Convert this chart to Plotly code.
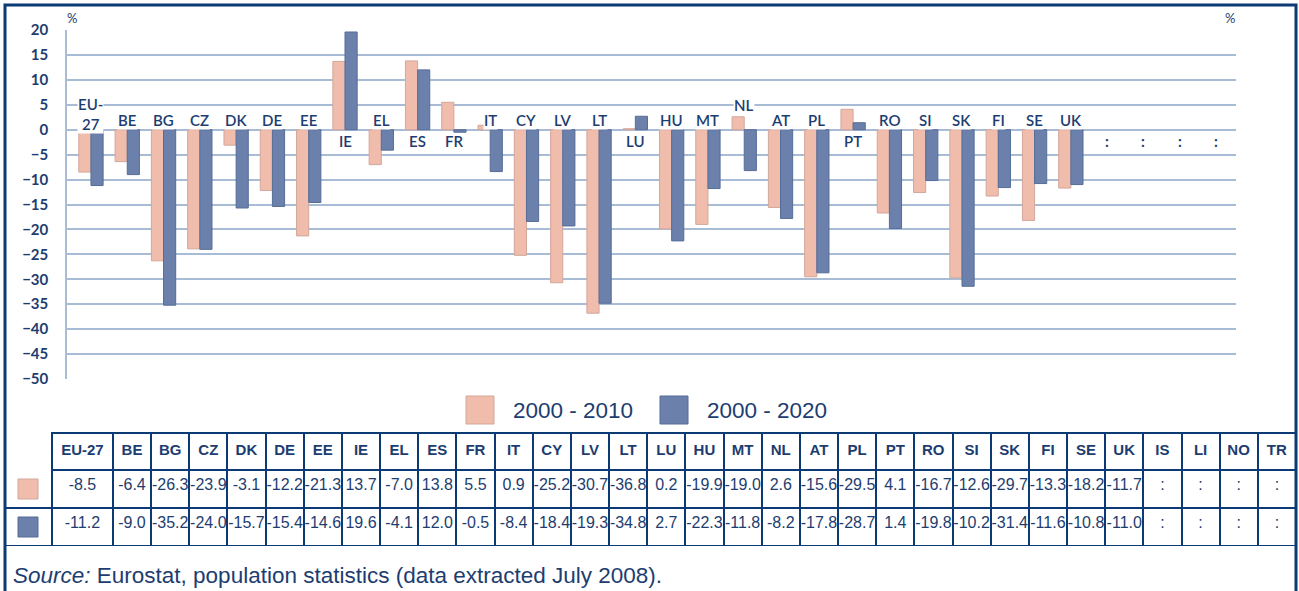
import plotly.graph_objects as go

W, H = 1299, 591

countries = ["EU-27", "BE", "BG", "CZ", "DK", "DE", "EE", "IE", "EL", "ES", "FR", "IT",
             "CY", "LV", "LT", "LU", "HU", "MT", "NL", "AT", "PL", "PT", "RO", "SI",
             "SK", "FI", "SE", "UK", "IS", "LI", "NO", "TR"]
chg_2010 = [-8.5, -6.4, -26.3, -23.9, -3.1, -12.2, -21.3, 13.7, -7.0, 13.8, 5.5, 0.9,
            -25.2, -30.7, -36.8, 0.2, -19.9, -19.0, 2.6, -15.6, -29.5, 4.1, -16.7, -12.6,
            -29.7, -13.3, -18.2, -11.7, None, None, None, None]
chg_2020 = [-11.2, -9.0, -35.2, -24.0, -15.7, -15.4, -14.6, 19.6, -4.1, 12.0, -0.5, -8.4,
            -18.4, -19.3, -34.8, 2.7, -22.3, -11.8, -8.2, -17.8, -28.7, 1.4, -19.8, -10.2,
            -31.4, -11.6, -10.8, -11.0, None, None, None, None]
series_names = ["2000 - 2010", "2000 - 2020"]

NAVY = "#0b3a75"
TXT = "#1d3d70"
GRID = "#a9bcd6"
PINK = "#f0bcab"
PINK_LINE = "#d3a79c"
BLUE = "#6b81ab"
BLUE_LINE = "#566d99"
LABEL_FONT = dict(family="Lato", size=15, color=TXT, weight=600)


def px(x):
    return x / W


def py(y):
    return 1 - y / H


fig = go.Figure()

fig.add_trace(go.Bar(x=countries, y=chg_2010, name=series_names[0],
                     marker=dict(color=PINK, line=dict(color=PINK_LINE, width=1))))
fig.add_trace(go.Bar(x=countries, y=chg_2020, name=series_names[1],
                     marker=dict(color=BLUE, line=dict(color=BLUE_LINE, width=1))))

# country labels above / below the zero line
annotations = []
for c, a, b in zip(countries, chg_2010, chg_2020):
    vals = [v for v in (a, b) if v is not None]
    if not vals:
        annotations.append(dict(x=c, y=0, text="<b>:</b>", showarrow=False, yanchor="middle",
                                yshift=-11, font=LABEL_FONT))
        continue
    if c == "EU-27":
        annotations.append(dict(x=c, y=0, text="EU-<br>27", showarrow=False, yanchor="middle",
                                yshift=16, bgcolor="white", borderpad=0, font=LABEL_FONT))
    elif min(vals) < -1:
        top = max(vals) if max(vals) > 1 else 0
        annotations.append(dict(x=c, y=top, text=c, showarrow=False, yanchor="middle",
                                yshift=10 if top == 0 else 12, bgcolor="white",
                                borderpad=0, font=LABEL_FONT))
    else:
        annotations.append(dict(x=c, y=0, text=c, showarrow=False, yanchor="middle",
                                yshift=-11, font=LABEL_FONT))

# % signs
annotations.append(dict(xref="paper", yref="paper", x=px(65), y=py(18), text="%",
                        showarrow=False, xanchor="left", yanchor="middle",
                        font=dict(family="Lato", size=13, color=TXT)))
annotations.append(dict(xref="paper", yref="paper", x=px(1237), y=py(18), text="%",
                        showarrow=False, xanchor="right", yanchor="middle",
                        font=dict(family="Lato", size=13, color=TXT)))

# legend (drawn by hand to get the large swatches)
shapes = []
for (x0, col, lc, name) in [(466, PINK, PINK_LINE, series_names[0]),
                            (660, BLUE, BLUE_LINE, series_names[1])]:
    shapes.append(dict(type="rect", xref="paper", yref="paper", x0=px(x0), x1=px(x0 + 28),
                       y0=py(424), y1=py(396), fillcolor=col, line=dict(color=lc, width=1)))
    annotations.append(dict(xref="paper", yref="paper", x=px(x0 + 45), y=py(410), text=name,
                            showarrow=False, xanchor="left", yanchor="middle",
                            font=dict(family="Liberation Sans", size=22.5, color=TXT)))

# swatches in the table
for (yc, col, lc) in [(489, PINK, PINK_LINE), (527, BLUE, BLUE_LINE)]:
    shapes.append(dict(type="rect", xref="paper", yref="paper", x0=px(18), x1=px(38),
                       y0=py(yc + 10), y1=py(yc - 10), fillcolor=col,
                       line=dict(color=lc, width=1), layer="above"))

# source note
annotations.append(dict(xref="paper", yref="paper", x=px(11), y=py(575),
                        text="<i>Source:</i> Eurostat, population statistics (data extracted July 2008).",
                        showarrow=False, xanchor="left", yanchor="middle",
                        font=dict(family="Liberation Sans", size=22.5, color=TXT)))

# outer frame
shapes.append(dict(type="rect", xref="paper", yref="paper", x0=px(5), x1=px(1296),
                   y0=-0.05, y1=py(5), line=dict(color=NAVY, width=3), layer="above"))


def fmt(v):
    return ":" if v is None else f"{v:.1f}"


fig.add_trace(go.Table(
    domain=dict(x=[px(5), px(1296)], y=[py(547), py(433)]),
    columnwidth=[47, 61] + [38.2] * (len(countries) - 1),
    header=dict(values=[""] + [f"<b>{c}</b>" for c in countries], height=37,
                align="center", fill=dict(color="white"),
                line=dict(color=["white"] + [NAVY] * len(countries), width=2),
                font=dict(family="Liberation Sans", size=15, color=TXT)),
    cells=dict(values=[["", ""]] + [[fmt(a), fmt(b)] for a, b in zip(chg_2010, chg_2020)],
               height=38, align="center", fill=dict(color="white"),
               line=dict(color=NAVY, width=2),
               font=dict(family="Liberation Sans", size=16, color=TXT)),
))

fig.update_layout(
    width=W, height=H,
    margin=dict(l=0, r=0, t=0, b=0, pad=0, autoexpand=False),
    paper_bgcolor="white", plot_bgcolor="white",
    barmode="group", bargap=0.33, bargroupgap=0,
    showlegend=False,
    shapes=shapes, annotations=annotations,
    xaxis=dict(domain=[px(67), px(1236)], range=[-0.66, 31.55], showticklabels=False,
               showgrid=False, zeroline=False, showline=False, fixedrange=True),
    yaxis=dict(domain=[py(379), py(30)], range=[-50, 20], dtick=5, showgrid=True,
               gridcolor=GRID, gridwidth=1.5, zeroline=True, zerolinecolor=GRID,
               zerolinewidth=1.5, showline=True, linecolor=GRID, linewidth=1.5,
               ticklabelstandoff=14, automargin=False,
               tickfont=dict(family="Lato", size=15, color=TXT, weight="bold")),
    yaxis2=dict(overlaying="y", side="right", range=[-50, 20], dtick=5, showgrid=False,
                zeroline=False, showline=True, linecolor=GRID, linewidth=1.5,
                ticklabelstandoff=14, automargin=False,
                tickfont=dict(family="Lato", size=15, color=TXT, weight="bold")),
)

# the page body has a default 8px margin that pushes the figure off the window
fig.write_html("out.html", config={"displayModeBar": False},
               post_script="document.body.style.margin='0px';")
